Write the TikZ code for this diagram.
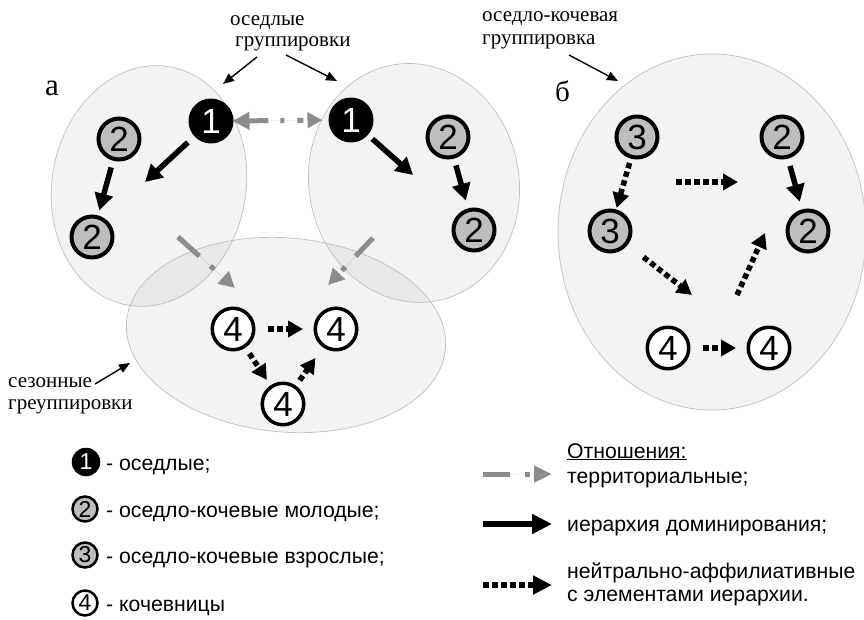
\documentclass[tikz,border=0pt]{standalone}
\usepackage{fontspec}
\setmainfont{Liberation Serif}
\newfontfamily\sansf{Liberation Sans}
\usetikzlibrary{arrows.meta}
\definecolor{tergray}{RGB}{140,140,140}
\definecolor{nodegray}{RGB}{190,190,190}
\definecolor{rimgray}{RGB}{192,192,192}
\definecolor{grpfill}{RGB}{242,243,243}
\definecolor{ovlfill}{RGB}{231,232,233}
\begin{document}
\begin{tikzpicture}[x=1pt,y=-1pt,
  grp/.style={fill=grpfill},
  rim/.style={draw=rimgray, line width=0.7pt},
  digit/.style={font=\sansf\fontsize{35}{35}\selectfont},
  nA/.style={circle, digit, fill=black, draw=black, line width=1pt, minimum size=44pt, inner sep=0pt, text=white},
  nB/.style={circle, digit, fill=nodegray, draw=black, line width=4pt, minimum size=41pt, inner sep=0pt},
  nD/.style={circle, digit, fill=white, draw=black, line width=3.5pt, minimum size=41.5pt, inner sep=0pt},
  lgd/.style={font=\sansf\fontsize{23}{23}\selectfont, minimum size=25pt},
  lA/.style={nA, lgd, minimum size=28pt, line width=0.5pt},
  lB/.style={nB, lgd, line width=2.5pt},
  lD/.style={nD, lgd, line width=2.5pt},
  dom/.style={line width=5.5pt, -{Triangle[length=17pt,width=18pt]}},
  aff/.style={line width=5.5pt, dash pattern=on 5.5pt off 3.5pt, -{Triangle[length=15pt,width=16pt]}},
  ter/.style={line width=5pt, draw=tergray, fill=tergray},
  lbl/.style={line width=1.4pt, -{Triangle[length=11pt,width=9pt]}},
  serif/.style={font=\fontsize{21}{21}\selectfont, inner sep=0pt, anchor=base west},
  sans/.style={font=\sansf\fontsize{21.2}{21.2}\selectfont, inner sep=0pt, anchor=base west}
]
\useasboundingbox (0,0) rectangle (864,619);

% group ellipses (fills)
\def\ellL{[rotate around={-10:(149,186)}] (149,186) ellipse [x radius=97, y radius=121]}
\path[grp, rotate around={-10:(149,186)}] (149,186) ellipse [x radius=97, y radius=121];
\path[grp, rotate around={11:(414,183)}] (414,183) ellipse [x radius=105, y radius=120];
\path[grp, rotate around={-5:(286,335)}] (286,335) ellipse [x radius=160, y radius=97];
\path[grp] (712,232) ellipse [x radius=154, y radius=178];
% overlaps
\begin{scope}
  \clip[rotate around={-5:(286,335)}] (286,335) ellipse [x radius=160, y radius=97];
  \path[fill=ovlfill, rotate around={-10:(149,186)}] (149,186) ellipse [x radius=97, y radius=121];
  \path[fill=ovlfill, rotate around={11:(414,183)}] (414,183) ellipse [x radius=105, y radius=120];
\end{scope}
% rims
\draw[rim, rotate around={-10:(149,186)}] (149,186) ellipse [x radius=97, y radius=121];
\draw[rim, rotate around={11:(414,183)}] (414,183) ellipse [x radius=105, y radius=120];
\draw[rim, rotate around={-5:(286,335)}] (286,335) ellipse [x radius=160, y radius=97];
\draw[rim] (712,232) ellipse [x radius=154, y radius=178];

% labels
\node[serif] (lblA) at (230,25) {оседлые};
\node[serif] (lblB) at (235,46) {группировки};
\node[serif] (lblC) at (482,21) {оседло-кочевая};
\node[serif] (lblD) at (482,44) {группировка};
\node[serif] (lblE) at (8,387) {сезонные};
\node[serif] (lblF) at (8,409) {греуппировки};
\node[serif, font=\fontsize{31}{31}\selectfont] (la) at (45,95) {а};
\node[serif, font=\fontsize{29}{29}\selectfont] (lb) at (555,101) {б};

\coordinate (pA1) at (257,57); \coordinate (pA2) at (223,84);
\coordinate (pB1) at (286,55); \coordinate (pB2) at (337,81);
\coordinate (pC1) at (569,55); \coordinate (pC2) at (618,81);
\coordinate (pE1) at (95,384); \coordinate (pE2) at (130,363);
\draw[lbl] (pA1) -- (pA2);
\draw[lbl] (pB1) -- (pB2);
\draw[lbl] (pC1) -- (pC2);
\draw[lbl] (pE1) -- (pE2);

% nodes, group a
\node[nA] (L1) at (211,121) {1};
\node[nA] (R1) at (351,120) {1};
\node[nB] (L2a) at (119,139) {2};
\node[nB] (L2b) at (92,237) {2};
\node[nB] (R2a) at (448,137) {2};
\node[nB] (R2b) at (474,230) {2};
\node[nD] (S4a) at (233,329) {4};
\node[nD] (S4b) at (336,329) {4};
\node[nD] (S4c) at (283,404) {4};
% nodes, group b
\node[nB] (B3a) at (637,137) {3};
\node[nB] (B3b) at (610,231) {3};
\node[nB] (B2a) at (782,137) {2};
\node[nB] (B2b) at (808,231) {2};
\node[nD] (B4a) at (668,348) {4};
\node[nD] (B4b) at (769,348) {4};

% territorial
\draw[ter, dash pattern=on 20pt off 12pt on 4pt off 13pt on 6pt off 30pt,
  {Triangle[length=17pt,width=17pt]}-{Triangle[length=15pt,width=15pt]},
  shorten <=-1pt, shorten >=6pt] (L1.east) -- (R1.west);
\coordinate (tL1) at (178,237); \coordinate (tL2) at (235,288);
\coordinate (tR1) at (373,238); \coordinate (tR2) at (328,285);
\draw[ter, dash pattern=on 28.5pt off 15pt on 5pt off 30pt, -{Triangle[length=16pt,width=16pt]}] (tL1) -- (tL2);
\draw[ter, dash pattern=on 25pt off 15pt on 5pt off 30pt, -{Triangle[length=16pt,width=16pt]}] (tR1) -- (tR2);

% dominance
\coordinate (dL) at (145,182);
\coordinate (dR) at (413,175);
\draw[dom, shorten <=9pt] (L1) -- (dL);
\draw[dom, shorten <=7pt, shorten >=5pt] (L2a) -- (L2b);
\draw[dom, shorten <=6pt] (R1) -- (dR);
\draw[dom, shorten <=7pt, shorten >=8pt] (R2a) -- (R2b);
\draw[dom, shorten <=7.5pt, shorten >=8pt] (B2a) -- (B2b);

% affiliative, group a
\draw[aff, shorten <=12.5pt, shorten >=10.5pt] (S4a) -- (S4b);
\draw[aff, shorten <=7pt, shorten >=6.5pt] (S4a) -- (S4c);
\draw[aff, shorten <=6.5pt, shorten >=13pt] (S4c) -- (S4b);
% affiliative, group b
\coordinate (h1) at (676,182); \coordinate (h2) at (738,182);
\coordinate (v1) at (692,295);
\coordinate (u1) at (737,295); \coordinate (u2) at (765,233);
\draw[aff, shorten <=4.5pt, shorten >=1.5pt] (B3a) -- (B3b);
\draw[aff] (h1) -- (h2);
\draw[aff, shorten <=20pt] (B3b) -- (v1);
\draw[aff] (u1) -- (u2);
\draw[aff, shorten <=12.5pt, shorten >=10.5pt] (B4a) -- (B4b);

% legend left
\node[lA] (k1) at (86,462) {1};
\node[lB] (k2) at (85,509) {2};
\node[lB] (k3) at (85,555) {3};
\node[lD] (k4) at (85,603) {4};
\node[sans] (t1) at (106,470) {- оседлые;};
\node[sans] (t2) at (106,517) {- оседло-кочевые молодые;};
\node[sans] (t3) at (106,563) {- оседло-кочевые взрослые;};
\node[sans] (t4) at (106,611) {- кочевницы};

% legend right
\node[sans] (r0) at (567,458) {\underline{Отношения:}};
\node[sans] (r1) at (567,483) {территориальные;};
\node[sans] (r2) at (567,531) {иерархия доминирования;};
\node[sans] (r3) at (567,578) {нейтрально-аффилиативные};
\node[sans] (r4) at (567,601) {с элементами иерархии.};
\coordinate (a1) at (483,474); \coordinate (a2) at (552,474);
\coordinate (b1) at (483,524); \coordinate (b2) at (552,524);
\coordinate (c1) at (483,585); \coordinate (c2) at (552,585);
\draw[ter, dash pattern=on 27pt off 15pt on 5pt off 30pt, -{Triangle[length=18pt,width=16pt]}] (a1) -- (a2);
\draw[dom, line width=6pt, -{Triangle[length=20pt,width=19pt]}] (b1) -- (b2);
\draw[aff, dash pattern=on 6pt off 3pt, -{Triangle[length=19pt,width=18pt]}] (c1) -- (c2);
\end{tikzpicture}
\end{document}
